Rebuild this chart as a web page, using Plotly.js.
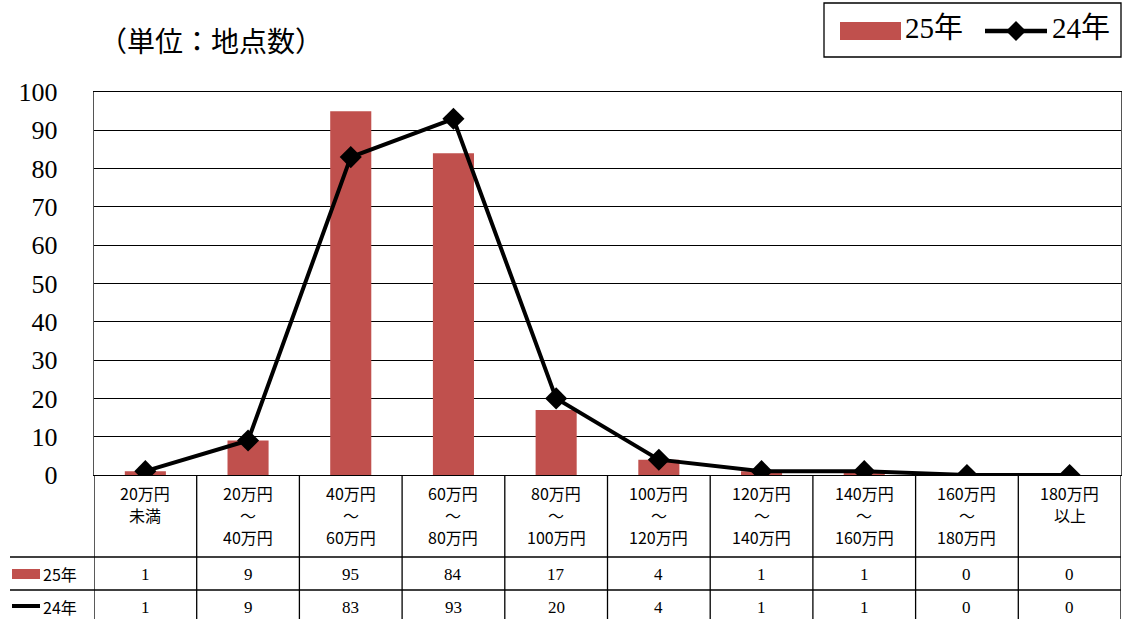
<!DOCTYPE html>
<html><head><meta charset="utf-8">
<script src="https://cdn.plot.ly/plotly-3.0.1.min.js"></script>
<style>html,body{margin:0;padding:0;background:#fff}#c{width:1125px;height:619px}</style>
</head><body><div id="c"></div>
<script>
const categories = ["20万円<br>未満","20万円<br>～<br>40万円","40万円<br>～<br>60万円","60万円<br>～<br>80万円","80万円<br>～<br>100万円","100万円<br>～<br>120万円","120万円<br>～<br>140万円","140万円<br>～<br>160万円","160万円<br>～<br>180万円","180万円<br>以上"];
const catKeys = ["c0","c1","c2","c3","c4","c5","c6","c7","c8","c9"];
const values25 = [1, 9, 95, 84, 17, 4, 1, 1, 0, 0];
const values24 = [1, 9, 83, 93, 20, 4, 1, 1, 0, 0];
const seriesNames = ["25年", "24年"];
const yTicks = [0,10,20,30,40,50,60,70,80,90,100];

const W = 1125, H = 619;
const py = px => (H - px) / H;
const px2x = px => px / W;
const jp = "Noto Sans CJK JP";
const serif = "Liberation Serif";
const barColor = "#C0504D";

const traces = [
  {type:"bar", x:catKeys, y:values25, name:seriesNames[0], width:0.4,
   marker:{color:barColor}},
  {type:"scatter", mode:"lines+markers", x:catKeys, y:values24, name:seriesNames[1],
   line:{color:"#000", width:4}, marker:{symbol:"diamond", size:17, color:"#000"}}
];

const shapes = [];
const annotations = [];
const n = catKeys.length;
for (let i = 0; i <= n; i++) {
  shapes.push({type:"line", xref:"x", yref:"paper", x0:i-0.5, x1:i-0.5, y0:py(475), y1:0,
    line:{color:"#000", width:1.3}});
}
[557, 590].forEach(yy => shapes.push({type:"line", xref:"paper", yref:"paper",
  x0:px2x(10), x1:px2x(1121), y0:py(yy), y1:py(yy), line:{color:"#000", width:1.3}}));
shapes.push({type:"rect", xref:"paper", yref:"paper", x0:px2x(12), x1:px2x(40),
  y0:py(579), y1:py(569), fillcolor:barColor, line:{width:0}});
shapes.push({type:"line", xref:"paper", yref:"paper", x0:px2x(12), x1:px2x(40),
  y0:py(606), y1:py(606), line:{color:"#000", width:4}});

// custom legend
shapes.push({type:"rect", xref:"paper", yref:"paper", x0:px2x(824), x1:px2x(1121),
  y0:py(57), y1:py(3), fillcolor:"#fff", line:{color:"#000", width:1.3}});
shapes.push({type:"rect", xref:"paper", yref:"paper", x0:px2x(840), x1:px2x(901),
  y0:py(40), y1:py(22), fillcolor:barColor, line:{width:0}});
shapes.push({type:"line", xref:"paper", yref:"paper", x0:px2x(985), x1:px2x(1047),
  y0:py(31), y1:py(31), line:{color:"#000", width:4.5}});
const dc = [1016, 31], dr = 10;
shapes.push({type:"path", xref:"paper", yref:"paper",
  path:`M ${px2x(dc[0])} ${py(dc[1]-dr)} L ${px2x(dc[0]+dr)} ${py(dc[1])} L ${px2x(dc[0])} ${py(dc[1]+dr)} L ${px2x(dc[0]-dr)} ${py(dc[1])} Z`,
  fillcolor:"#000", line:{width:0}});
annotations.push({x:px2x(903), y:py(28), xref:"paper", yref:"paper", xanchor:"left", yanchor:"middle",
  text:seriesNames[0], showarrow:false, font:{family:serif + ", " + jp, size:29, color:"#000"}});
annotations.push({x:px2x(1050), y:py(28), xref:"paper", yref:"paper", xanchor:"left", yanchor:"middle",
  text:seriesNames[1], showarrow:false, font:{family:serif + ", " + jp, size:29, color:"#000"}});

const lineY = [493, 515, 537];
categories.forEach((c, i) => {
  c.split("<br>").forEach((part, j) => {
    annotations.push({x:catKeys[i], xref:"x", yref:"paper", y:py(lineY[j]), yanchor:"middle",
      text:part, showarrow:false, font:{family:jp, size:16, color:"#000"}});
  });
  annotations.push({x:catKeys[i], xref:"x", yref:"paper", y:py(574), yanchor:"middle",
    text:String(values25[i]), showarrow:false, font:{family:serif, size:17, color:"#000"}});
  annotations.push({x:catKeys[i], xref:"x", yref:"paper", y:py(607), yanchor:"middle",
    text:String(values24[i]), showarrow:false, font:{family:serif, size:17, color:"#000"}});
});
annotations.push({x:px2x(41), y:py(574), xref:"paper", yref:"paper", xanchor:"left", yanchor:"middle",
  text:seriesNames[0], showarrow:false, font:{family:jp, size:16, color:"#000"}});
annotations.push({x:px2x(41), y:py(607), xref:"paper", yref:"paper", xanchor:"left", yanchor:"middle",
  text:seriesNames[1], showarrow:false, font:{family:jp, size:16, color:"#000"}});
annotations.push({x:px2x(97), y:py(40), xref:"paper", yref:"paper", xanchor:"left", yanchor:"middle",
  text:"（単位：地点数）", showarrow:false, font:{family:jp, size:28, color:"#000"}});

const layout = {
  width:W, height:H, margin:{l:0, r:0, t:0, b:0},
  paper_bgcolor:"#fff", plot_bgcolor:"#fff",
  showlegend:false,
  xaxis:{domain:[px2x(94), px2x(1121)], type:"category", categoryorder:"array", categoryarray:catKeys,
    range:[-0.5, n-0.5], showticklabels:false, ticks:"", showgrid:false,
    showline:true, linecolor:"#000", linewidth:1.3, mirror:true, zeroline:false},
  yaxis:{domain:[py(475), py(92)], range:[0,100], tickvals:yTicks, ticks:"",
    showgrid:true, gridcolor:"#000", gridwidth:1, showline:true, linecolor:"#555", linewidth:1.3,
    mirror:true, zeroline:false, ticklabelstandoff:30,
    tickfont:{family:serif, size:26, color:"#000"}},
  shapes:shapes, annotations:annotations
};
Plotly.newPlot("c", traces, layout, {staticPlot:true});
</script></body></html>
